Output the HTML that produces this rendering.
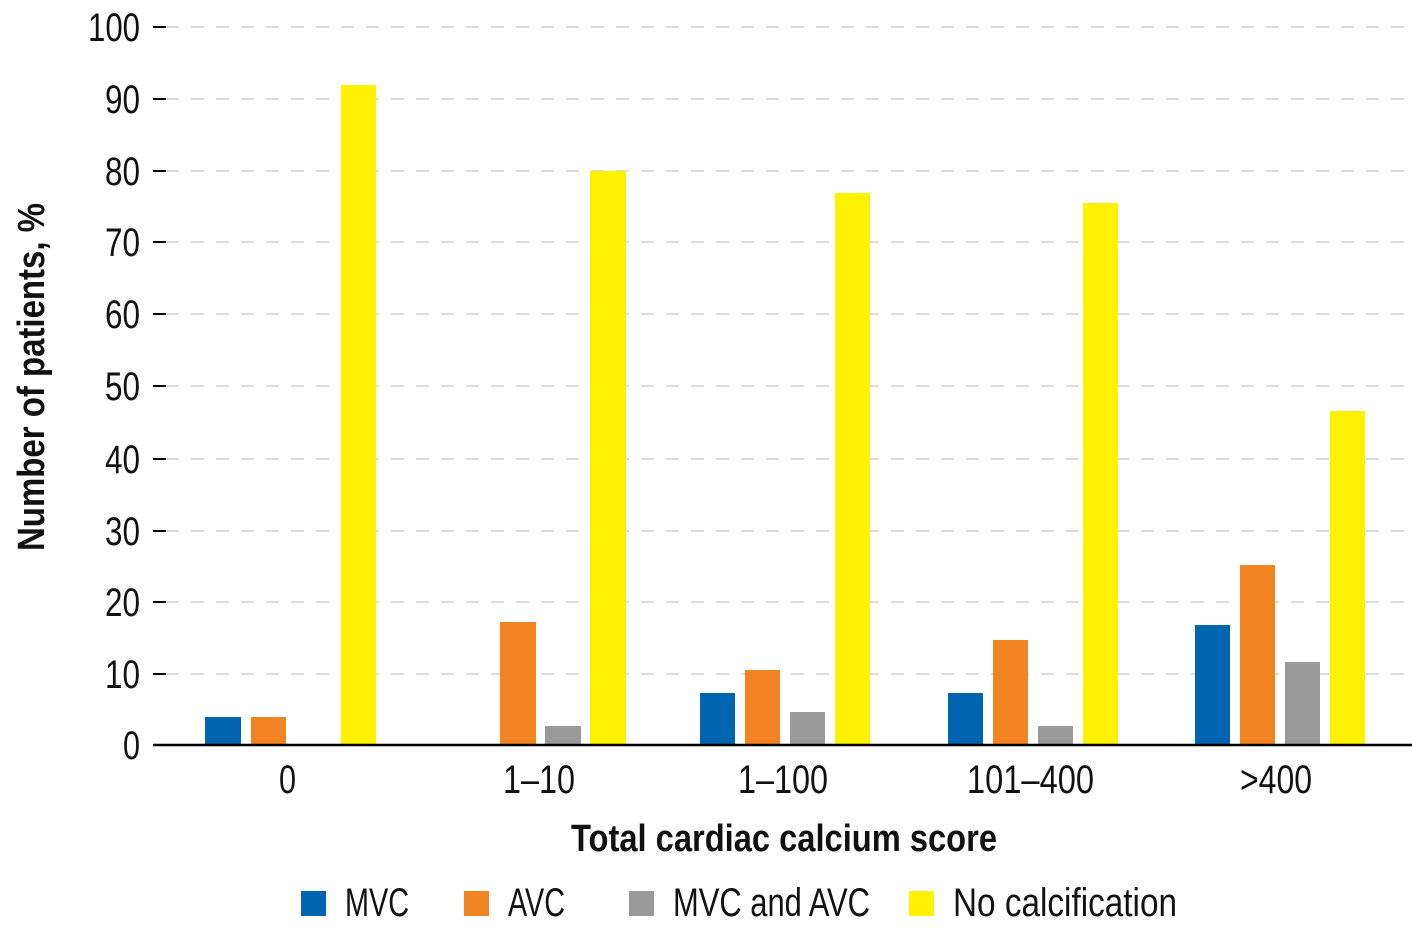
<!DOCTYPE html>
<html><head><meta charset="utf-8"><style>
html,body{margin:0;padding:0;background:#fff;}
svg{display:block;}
text{font-family:"Liberation Sans",sans-serif;fill:#111;}
</style></head><body>
<svg width="1412" height="931" viewBox="0 0 1412 931" xmlns="http://www.w3.org/2000/svg">
<g stroke="#dcdcdc" stroke-width="2" stroke-dasharray="13 12">
<line x1="166" y1="27" x2="1412" y2="27"/>
<line x1="166" y1="99" x2="1412" y2="99"/>
<line x1="166" y1="171" x2="1412" y2="171"/>
<line x1="166" y1="242" x2="1412" y2="242"/>
<line x1="166" y1="314" x2="1412" y2="314"/>
<line x1="166" y1="386" x2="1412" y2="386"/>
<line x1="166" y1="459" x2="1412" y2="459"/>
<line x1="166" y1="531" x2="1412" y2="531"/>
<line x1="166" y1="602" x2="1412" y2="602"/>
<line x1="166" y1="674" x2="1412" y2="674"/>
</g>
<g stroke="#000" stroke-width="2">
<line x1="153" y1="27" x2="166" y2="27"/><line x1="153" y1="99" x2="166" y2="99"/>
<line x1="153" y1="171" x2="166" y2="171"/><line x1="153" y1="242" x2="166" y2="242"/>
<line x1="153" y1="314" x2="166" y2="314"/><line x1="153" y1="386" x2="166" y2="386"/>
<line x1="153" y1="459" x2="166" y2="459"/><line x1="153" y1="531" x2="166" y2="531"/>
<line x1="153" y1="602" x2="166" y2="602"/><line x1="153" y1="674" x2="166" y2="674"/>
</g>
<g>
<rect x="205" y="717" width="36" height="28" fill="#0064b0"/>
<rect x="251" y="717" width="35" height="28" fill="#f28322"/>
<rect x="341" y="85" width="35" height="660" fill="#fff200"/>
<rect x="500" y="622" width="36" height="123" fill="#f28322"/>
<rect x="545" y="726" width="36" height="19" fill="#999"/>
<rect x="590" y="171" width="36" height="574" fill="#fff200"/>
<rect x="700" y="693" width="35" height="52" fill="#0064b0"/>
<rect x="745" y="670" width="35" height="75" fill="#f28322"/>
<rect x="790" y="712" width="35" height="33" fill="#999"/>
<rect x="835" y="193" width="35" height="552" fill="#fff200"/>
<rect x="948" y="693" width="35" height="52" fill="#0064b0"/>
<rect x="993" y="640" width="35" height="105" fill="#f28322"/>
<rect x="1038" y="726" width="35" height="19" fill="#999"/>
<rect x="1083" y="203" width="35" height="542" fill="#fff200"/>
<rect x="1195" y="625" width="35" height="120" fill="#0064b0"/>
<rect x="1240" y="565" width="35" height="180" fill="#f28322"/>
<rect x="1285" y="662" width="35" height="83" fill="#999"/>
<rect x="1330" y="411" width="35" height="334" fill="#fff200"/>
</g>
<line x1="153" y1="745" x2="1412" y2="745" stroke="#000" stroke-width="2.5"/>
<g font-size="40" text-anchor="end" lengthAdjust="spacingAndGlyphs">
<text x="140" y="41" textLength="52" lengthAdjust="spacingAndGlyphs">100</text>
<text x="140" y="113" textLength="35" lengthAdjust="spacingAndGlyphs">90</text>
<text x="140" y="185" textLength="35" lengthAdjust="spacingAndGlyphs">80</text>
<text x="140" y="256" textLength="35" lengthAdjust="spacingAndGlyphs">70</text>
<text x="140" y="328" textLength="35" lengthAdjust="spacingAndGlyphs">60</text>
<text x="140" y="400" textLength="35" lengthAdjust="spacingAndGlyphs">50</text>
<text x="140" y="473" textLength="35" lengthAdjust="spacingAndGlyphs">40</text>
<text x="140" y="545" textLength="35" lengthAdjust="spacingAndGlyphs">30</text>
<text x="140" y="616" textLength="35" lengthAdjust="spacingAndGlyphs">20</text>
<text x="140" y="688" textLength="35" lengthAdjust="spacingAndGlyphs">10</text>
<text x="140" y="759" textLength="17" lengthAdjust="spacingAndGlyphs">0</text>
</g>
<g font-size="40">
<text x="279" y="793" textLength="17" lengthAdjust="spacingAndGlyphs">0</text>
<text x="503" y="793" textLength="72" lengthAdjust="spacingAndGlyphs">1–10</text>
<text x="738" y="793" textLength="90" lengthAdjust="spacingAndGlyphs">1–100</text>
<text x="967" y="793" textLength="127" lengthAdjust="spacingAndGlyphs">101–400</text>
<text x="1240" y="793" textLength="72" lengthAdjust="spacingAndGlyphs">&gt;400</text>
</g>
<text x="571" y="851" font-size="38" font-weight="bold" textLength="426" lengthAdjust="spacingAndGlyphs">Total cardiac calcium score</text>
<text transform="translate(44,551) rotate(-90)" font-size="38" font-weight="bold" textLength="348" lengthAdjust="spacingAndGlyphs">Number of patients, %</text>
<g font-size="40">
<rect x="301" y="891" width="25" height="25" fill="#0064b0"/><text x="345" y="916" textLength="64" lengthAdjust="spacingAndGlyphs">MVC</text>
<rect x="464" y="891" width="25" height="25" fill="#f28322"/><text x="508" y="916" textLength="57" lengthAdjust="spacingAndGlyphs">AVC</text>
<rect x="629" y="891" width="25" height="25" fill="#999"/><text x="673" y="916" textLength="197" lengthAdjust="spacingAndGlyphs">MVC and AVC</text>
<rect x="909" y="891" width="25" height="25" fill="#fff200"/><text x="953" y="916" textLength="224" lengthAdjust="spacingAndGlyphs">No calcification</text>
</g>
</svg>
</body></html>
